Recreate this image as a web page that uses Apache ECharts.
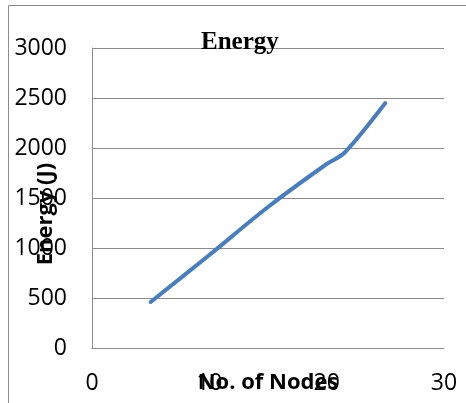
<!DOCTYPE html>
<html>
<head>
<meta charset="utf-8">
<script src="https://cdn.jsdelivr.net/npm/echarts@6/dist/echarts.min.js"></script>
<style>
html,body{margin:0;padding:0;background:#fff;}
#chart{width:466px;height:403px;}
</style>
</head>
<body>
<div id="chart"></div>
<script>
const chartTitle = 'Energy';
const xAxisName = 'No. of Nodes';
const yAxisName = 'Energy (J)';
const nodes = [5, 10, 15, 20, 21.5, 25];
const energy = [460, 930, 1410, 1840, 1950, 2450];

const seriesData = nodes.map((n, i) => [n, energy[i]]);
const labelFont = '"Open Sans", sans-serif';

const chart = echarts.init(document.getElementById('chart'), null, {renderer: 'canvas'});
chart.setOption({
  animation: false,
  backgroundColor: '#ffffff',
  title: {
    text: chartTitle,
    left: 201,
    top: 30,
    padding: 0,
    textStyle: {fontFamily: '"Liberation Serif", serif', fontWeight: 'bold', fontSize: 25, color: '#000'}
  },
  grid: {left: 92, right: 22, top: 48, bottom: 55, containLabel: false, outerBoundsMode: 'none'},
  xAxis: {
    type: 'value', min: 0, max: 30, interval: 10,
    name: xAxisName, nameLocation: 'middle', nameGap: 24, nameMoveOverlap: false,
    nameTextStyle: {fontFamily: labelFont, fontWeight: 'bold', fontSize: 22, color: '#000'},
    axisLine: {show: true, lineStyle: {color: '#8c8c8c', width: 1}},
    axisTick: {show: false},
    splitLine: {show: false},
    axisLabel: {margin: 24, fontFamily: labelFont, fontSize: 23, color: '#000'}
  },
  yAxis: {
    type: 'value', min: 0, max: 3000, interval: 500,
    axisLine: {show: true, lineStyle: {color: '#8c8c8c', width: 1}},
    axisTick: {show: false},
    splitLine: {show: true, lineStyle: {color: '#8c8c8c', width: 1}},
    axisLabel: {margin: 25, fontFamily: labelFont, fontSize: 23, color: '#000', formatter: v => String(v)}
  },
  graphic: [
    {type: 'rect', shape: {x: 8.5, y: 5.5, width: 470, height: 410}, style: {fill: 'none', stroke: '#8c8c8c', lineWidth: 1}, silent: true},
    {type: 'text', x: 46, y: 214, rotation: Math.PI / 2,
     style: {text: yAxisName, fontFamily: labelFont, fontWeight: 'bold', fontSize: 22, fill: '#000', textAlign: 'center', textVerticalAlign: 'middle'}}
  ],
  series: [{
    type: 'line',
    data: seriesData,
    smooth: 0.3,
    showSymbol: false,
    symbol: 'none',
    lineStyle: {color: '#4a7ebb', width: 4, cap: 'round', join: 'round'}
  }]
});
</script>
</body>
</html>
